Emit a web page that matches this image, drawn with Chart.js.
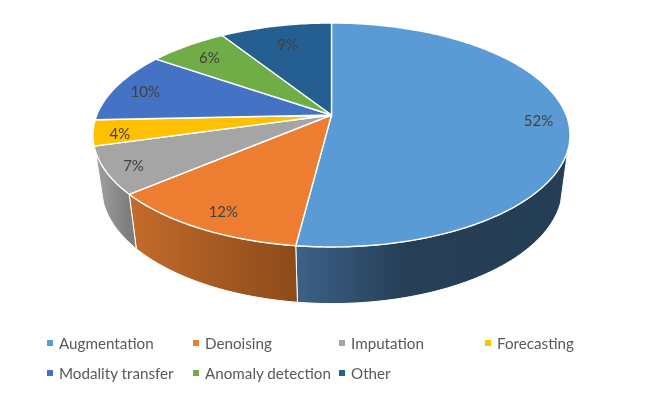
<!DOCTYPE html>
<html>
<head>
<meta charset="utf-8">
<style>
  html, body { margin: 0; padding: 0; background: #fff; }
  #wrap { position: relative; width: 664px; height: 399px; overflow: hidden; }
  #pie { position: absolute; left: 0; top: 0; }
  .key { position: absolute; font: 15.2px Lato, sans-serif; color: #595959; white-space: nowrap; line-height: 20px; }
  .key i { position: absolute; left: -12px; top: 7px; width: 6px; height: 6px; }
</style>
</head>
<body>
<div id="wrap">
  <canvas id="pie" width="664" height="399"></canvas>
  <div id="legend"></div>
</div>
<script src="https://cdn.jsdelivr.net/npm/chart.js@4/dist/chart.umd.min.js"></script>
<script>
// values (labels round them to whole percents)
const categories = ['Augmentation', 'Denoising', 'Imputation', 'Forecasting', 'Modality transfer', 'Anomaly detection', 'Other'];
const shares = [52, 11.8, 6.8, 3.7, 10.3, 6.4, 9];
const colors = ['#5B9BD5', '#ED7D31', '#A5A5A5', '#FFC000', '#4472C4', '#70AD47', '#255E91'];

// side wall shading, left to right
const sideStops = [
  [[0, '#3c6188'], [0.4, '#263f57'], [1, '#243e55']],
  [[0, '#c46b2b'], [1, '#8c4b1b']],
  [[0, '#a2a2a2'], [1, '#7d7d7d']]
];

// label placement: radius on the disc and a small downward nudge
const labelRadius = [0.875, 0.84, 0.885, 0.89, 0.86, 0.83, 0.76];
const labelNudge = [0, 5, 2, 3, 2, 2, 0];

// perspective disc, fitted to the picture
const persp = 0.1786;
const topFace = { cx: 331.5, cy: 115, a: 234.7, b: 108.4 };
const bottomFace = { cx: 332, cy: 166, a: 227, b: 113 };
const sideFrom = 108 * Math.PI / 180;
const sideTo = 252 * Math.PI / 180;

// theta is measured clockwise from the top of the pie
function project(face, theta, r) {
  const u = r * Math.sin(theta);
  const v = -r * Math.cos(theta);
  const d = 1 - persp * v;
  return { x: face.cx + face.a * u / d, y: face.cy + face.b * v / d };
}

function traceArc(ctx, face, from, to) {
  const steps = Math.max(2, Math.ceil(Math.abs(to - from) * 60));
  for (let i = 0; i <= steps; i++) {
    const p = project(face, from + (to - from) * i / steps, 1);
    ctx.lineTo(p.x, p.y);
  }
}

const disc3d = {
  id: 'disc3d',
  beforeDatasetDraw(chart, args) {
    const ctx = chart.ctx;
    const arcs = args.meta.data;
    const thetas = arcs.map(arc => [arc.startAngle + Math.PI / 2, arc.endAngle + Math.PI / 2]);

    // side walls first
    thetas.forEach(([start, end], i) => {
      const from = Math.max(start, sideFrom);
      const to = Math.min(end, sideTo);
      if (to <= from) return;
      const left = project(topFace, to, 1).x;
      const right = project(topFace, from, 1).x;
      const grad = ctx.createLinearGradient(left, 0, right, 0);
      sideStops[i].forEach(s => grad.addColorStop(s[0], s[1]));
      ctx.beginPath();
      traceArc(ctx, topFace, from, to);
      traceArc(ctx, bottomFace, to, from);
      ctx.closePath();
      ctx.fillStyle = grad;
      ctx.fill();
      ctx.strokeStyle = '#ffffff';
      ctx.lineWidth = 1;
      ctx.stroke();
    });

    // top face
    thetas.forEach(([start, end], i) => {
      ctx.beginPath();
      ctx.moveTo(topFace.cx, topFace.cy);
      traceArc(ctx, topFace, start, end);
      ctx.closePath();
      ctx.fillStyle = colors[i];
      ctx.fill();
      ctx.strokeStyle = '#ffffff';
      ctx.lineWidth = 1.4;
      ctx.lineJoin = 'round';
      ctx.stroke();
    });

    // percent labels
    ctx.fillStyle = '#404040';
    ctx.font = '15px Lato, sans-serif';
    ctx.textAlign = 'center';
    ctx.textBaseline = 'middle';
    thetas.forEach(([start, end], i) => {
      const p = project(topFace, (start + end) / 2, labelRadius[i]);
      ctx.fillText(Math.round(shares[i]) + '%', p.x, p.y + labelNudge[i]);
    });
    return false;
  }
};

new Chart(document.getElementById('pie'), {
  type: 'pie',
  data: {
    labels: categories,
    datasets: [{ data: shares, backgroundColor: colors }]
  },
  options: {
    responsive: false,
    animation: false,
    plugins: { legend: { display: false }, tooltip: { enabled: false } }
  },
  plugins: [disc3d]
});

// legend in 4 columns
const legend = document.getElementById('legend');
categories.forEach((name, i) => {
  const el = document.createElement('div');
  el.className = 'key';
  el.style.left = (59 + 146 * (i % 4)) + 'px';
  el.style.top = (333 + 30 * Math.floor(i / 4)) + 'px';
  el.innerHTML = '<i style="background:' + colors[i] + '"></i>' + name;
  legend.appendChild(el);
});
</script>
</body>
</html>
